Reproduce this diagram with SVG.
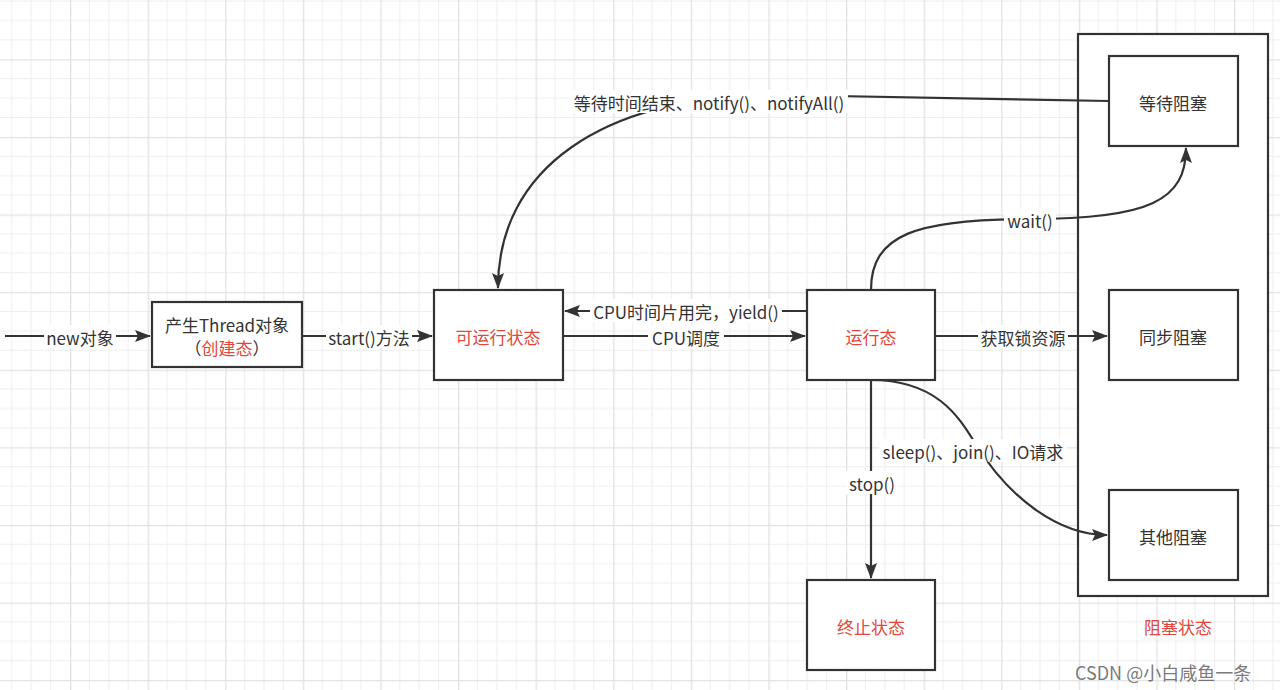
<svg xmlns="http://www.w3.org/2000/svg" width="1280" height="690" viewBox="0 0 1280 690">
<defs>
<pattern id="grid" patternUnits="userSpaceOnUse" x="-7.6" y="-18.3" width="77.6" height="77.6">
<path d="M19.4 0V77.6M38.8 0V77.6M58.2 0V77.6M0 19.4H77.6M0 38.8H77.6M0 58.2H77.6" stroke="#efefef" stroke-width="1.2" fill="none"/>
<path d="M0.6 0V77.6M0 0.6H77.6" stroke="#e2e2e2" stroke-width="1.4" fill="none"/>
</pattern>
<marker id="arr" markerUnits="userSpaceOnUse" markerWidth="16" markerHeight="12" refX="15" refY="6" orient="auto">
<path d="M0 0L16 6L0 12L3 6Z" fill="#333"/>
</marker>
<style>
.box{fill:#fff;stroke:#333;stroke-width:2.2}
.t{font-family:"Noto Sans CJK SC","Microsoft YaHei",sans-serif;font-size:17px;fill:#333;text-anchor:middle;dominant-baseline:central}
.red{fill:#e0473d}
.e{fill:none;stroke:#333;stroke-width:2.2}
.lb{fill:#fff}
</style>
</defs>
<rect width="1280" height="690" fill="#fff"/>
<rect width="1280" height="690" fill="url(#grid)"/>

<g id="blocked-container">
<rect class="box" x="1078" y="34" width="190" height="562"/>
<text class="t red" x="1178" y="626">阻塞状态</text>
</g>

<g id="connectors">
<path class="e" d="M5 336H150" marker-end="url(#arr)"/>
<path class="e" d="M302 336H432" marker-end="url(#arr)"/>
<path class="e" d="M807 311H565" marker-end="url(#arr)"/>
<path class="e" d="M563 336H805" marker-end="url(#arr)"/>
<path class="e" d="M935 336H1107" marker-end="url(#arr)"/>
<path class="e" d="M871 380V578" marker-end="url(#arr)"/>
<path class="e" d="M871 380C935 380 958 415 975 443C1010 500 1060 535 1107 535" marker-end="url(#arr)"/>
<path class="e" d="M871 290C871 235 915 219 1030 219C1150 219 1186 200 1186 148" marker-end="url(#arr)"/>
<path class="e" d="M1109 101L780 95C600 95 498 170 498 288" marker-end="url(#arr)"/>
<rect class="lb" x="44" y="325" width="72" height="23"/>
<text class="t" x="80" y="337">new对象</text>
<rect class="lb" x="326" y="325" width="86" height="23"/>
<text class="t" x="369" y="337">start()方法</text>
<rect class="lb" x="590" y="299" width="192" height="23"/>
<text class="t" x="686" y="311">CPU时间片用完，yield()</text>
<rect class="lb" x="648" y="325" width="76" height="23"/>
<text class="t" x="686" y="337">CPU调度</text>
<rect class="lb" x="978" y="325" width="90" height="23"/>
<text class="t" x="1023" y="337">获取锁资源</text>
<rect class="lb" x="846" y="471" width="52" height="23"/>
<text class="t" x="872" y="483">stop()</text>
<rect class="lb" x="879" y="439" width="188" height="23"/>
<text class="t" x="973" y="451">sleep()、join()、IO请求</text>
<rect class="lb" x="1004" y="208" width="52" height="23"/>
<text class="t" x="1030" y="220">wait()</text>
<rect class="lb" x="570" y="90" width="278" height="23"/>
<text class="t" x="709" y="102">等待时间结束、notify()、notifyAll()</text>
</g>

<g id="node-create">
<rect class="box" x="152" y="302" width="150" height="65"/>
<text class="t" x="227" y="324">产生Thread对象</text>
<text class="t" x="227" y="347">（<tspan class="red">创建态</tspan>）</text>
</g>
<g id="node-runnable">
<rect class="box" x="434" y="290" width="129" height="90"/>
<text class="t red" x="498" y="336">可运行状态</text>
</g>
<g id="node-running">
<rect class="box" x="807" y="290" width="128" height="90"/>
<text class="t red" x="871" y="336">运行态</text>
</g>
<g id="node-terminated">
<rect class="box" x="807" y="580" width="128" height="90"/>
<text class="t red" x="871" y="626">终止状态</text>
</g>
<g id="node-wait-blocked">
<rect class="box" x="1109" y="56" width="129" height="90"/>
<text class="t" x="1173" y="102">等待阻塞</text>
</g>
<g id="node-sync-blocked">
<rect class="box" x="1109" y="290" width="129" height="90"/>
<text class="t" x="1173" y="336">同步阻塞</text>
</g>
<g id="node-other-blocked">
<rect class="box" x="1109" y="490" width="129" height="90"/>
<text class="t" x="1173" y="536">其他阻塞</text>
</g>

<text x="1075" y="672" style="font-family:'Noto Sans CJK SC',sans-serif;font-size:18px;fill:#555;fill-opacity:0.8;dominant-baseline:central">CSDN @小白咸鱼一条</text>
</svg>
